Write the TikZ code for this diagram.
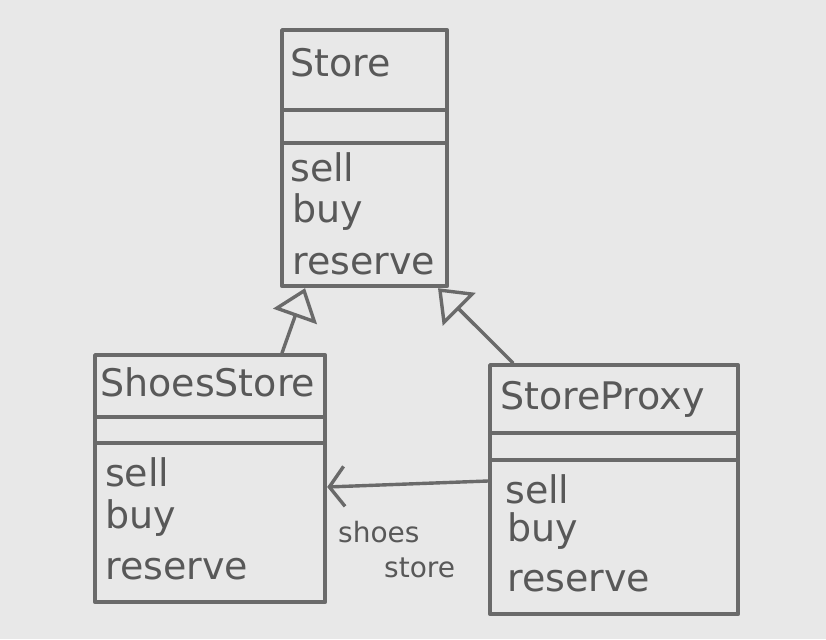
\documentclass[tikz,border=0pt]{standalone}
\usepackage{fontspec}
\setmainfont{DejaVu Sans}
\usetikzlibrary{arrows.meta}
\definecolor{paper}{HTML}{E8E8E8}
\definecolor{penc}{HTML}{6A6A6A}
\definecolor{ink}{HTML}{585858}
\begin{document}
\begin{tikzpicture}[x=1pt,y=-1pt,
  pencil/.style={draw=penc, line width=4.2pt, line join=round, line cap=round},
  divider/.style={draw=penc, line width=4pt, line cap=butt},
  classbox/.style={pencil, rectangle, inner sep=0pt, anchor=north west},
  txt/.style={text=ink, font=\fontsize{38}{42}\selectfont, inner sep=0pt, anchor=base west},
  lbl/.style={text=ink, font=\fontsize{28}{30}\selectfont, inner sep=0pt, anchor=base west},
  inherit/.style={draw=penc, line width=3.4pt, line cap=round, line join=round,
    -{Triangle[open, length=30pt, width=46pt, line width=3.4pt]}},
  assoc/.style={draw=penc, line width=3.4pt, line cap=round, line join=round,
    -{Straight Barb[length=15pt, width=40pt, line width=3.4pt]}}]
\fill[paper] (0,0) rectangle (826,639);
\useasboundingbox (0,0) rectangle (826,639);

% Store
\node[classbox, minimum width=165pt, minimum height=256pt] (store) at (280,28) {};
\draw[divider] (store.west |- 0,110) -- (store.east |- 0,110);
\draw[divider] (store.west |- 0,143) -- (store.east |- 0,143);
\node[txt] (storeT) at (290,77) {Store};
\node[txt] (storeM1) at (290,182) {sell};
\node[txt] (storeM2) at (292,222) {buy};
\node[txt] (storeM3) at (292,274) {reserve};

% ShoesStore
\node[classbox, minimum width=230pt, minimum height=247pt] (shoes) at (93,353) {};
\draw[divider] (shoes.west |- 0,417) -- (shoes.east |- 0,417);
\draw[divider] (shoes.west |- 0,443) -- (shoes.east |- 0,443);
\node[txt] (shoesT) at (100,396) {ShoesStore};
\node[txt] (shoesM1) at (105,486) {sell};
\node[txt] (shoesM2) at (105,528) {buy};
\node[txt] (shoesM3) at (105,579) {reserve};

% StoreProxy
\node[classbox, minimum width=248pt, minimum height=249pt] (proxy) at (488,363) {};
\draw[divider] (proxy.west |- 0,433) -- (proxy.east |- 0,433);
\draw[divider] (proxy.west |- 0,460) -- (proxy.east |- 0,460);
\node[txt] (proxyT) at (500,409) {StoreProxy};
\node[txt] (proxyM1) at (505,503) {sell};
\node[txt] (proxyM2) at (507,541) {buy};
\node[txt] (proxyM3) at (507,591) {reserve};

% connection points
\coordinate (shoesUp) at (shoes.north -| 282,0);
\coordinate (storeLow1) at (store.south -| 305,0);
\coordinate (proxyUp) at (proxy.north -| 513,0);
\coordinate (storeLow2) at (store.south -| 438,0);
\coordinate (proxyLeft) at (proxy.west |- 0,481);
\coordinate (shoesRight) at (shoes.east |- 0,487);

\draw[inherit] (shoesUp) -- (storeLow1);
\draw[inherit] (proxyUp) -- (storeLow2);
\draw[assoc] (proxyLeft) -- (shoesRight);

\node[lbl] (roleA) at (338,542) {shoes};
\node[lbl] (roleB) at (384,577) {store};
\end{tikzpicture}
\end{document}
